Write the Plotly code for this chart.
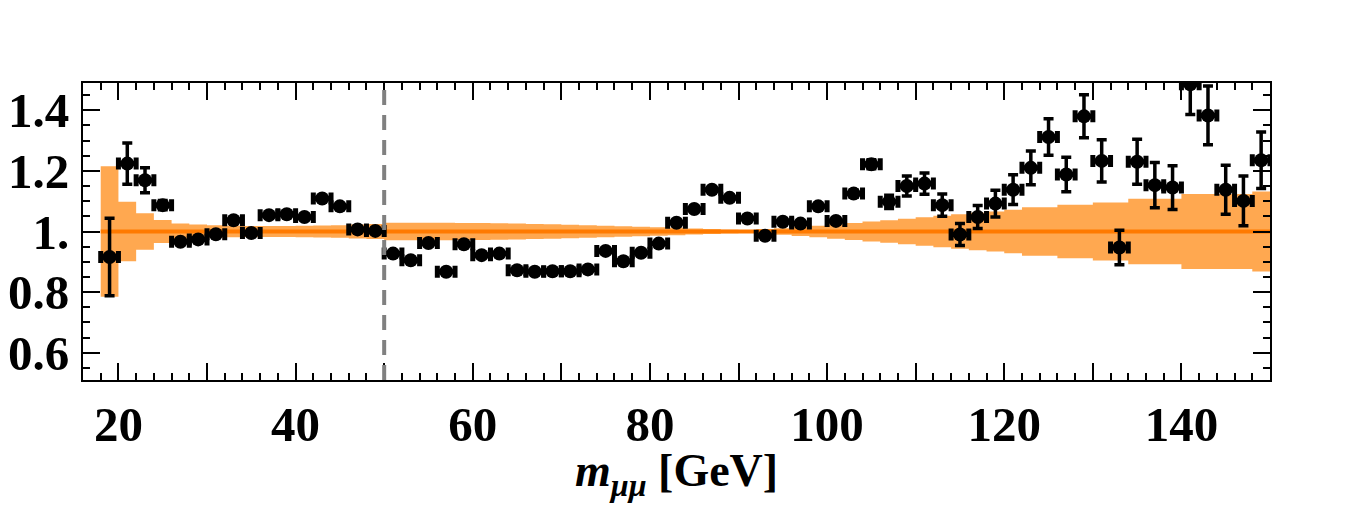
import plotly.graph_objects as go

# bin centres (GeV)
mass = [19, 21, 23, 25, 27, 29, 31, 33, 35, 37, 39, 41, 43, 45, 47, 49,
        51, 53, 55, 57, 59, 61, 63, 65, 67, 69, 71, 73, 75, 77, 79, 81,
        83, 85, 87, 89, 91, 93, 95, 97, 99, 101, 103, 105, 107, 109, 111, 113,
        115, 117, 119, 121, 123, 125, 127, 129, 131, 133, 135, 137, 139, 141, 143, 145,
        147, 149]
bin_half = [1.0] * len(mass)

ratio = [0.916, 1.224, 1.169, 1.087, 0.966, 0.974, 0.991, 1.037, 0.995, 1.054, 1.057, 1.048, 1.109, 1.083, 1.007, 1.002,
         0.927, 0.905, 0.962, 0.867, 0.958, 0.922, 0.927, 0.872, 0.867, 0.869, 0.869, 0.875, 0.936, 0.902, 0.930, 0.960,
         1.029, 1.074, 1.138, 1.111, 1.043, 0.986, 1.032, 1.026, 1.083, 1.035, 1.125, 1.222, 1.098, 1.150, 1.158, 1.087,
         0.990, 1.048, 1.092, 1.138, 1.210, 1.312, 1.188, 1.380, 1.233, 0.947, 1.230, 1.153, 1.145, 1.486, 1.383, 1.138,
         1.101, 1.235]
ratio_err = [0.128, 0.068, 0.041, 0.015, 0.008, 0.008, 0.008, 0.008, 0.008, 0.008, 0.008, 0.008, 0.008, 0.008, 0.008, 0.008,
             0.008, 0.008, 0.008, 0.008, 0.008, 0.008, 0.008, 0.008, 0.008, 0.008, 0.008, 0.008, 0.008, 0.008, 0.008, 0.008,
             0.008, 0.008, 0.008, 0.008, 0.008, 0.008, 0.008, 0.008, 0.009, 0.010, 0.012, 0.015, 0.022, 0.033, 0.035, 0.037,
             0.036, 0.038, 0.044, 0.049, 0.056, 0.060, 0.057, 0.071, 0.070, 0.057, 0.074, 0.075, 0.072, 0.100, 0.097, 0.081,
             0.082, 0.093]

# theory uncertainty band (half-width per bin) around 1
band_half = [0.215, 0.098, 0.060, 0.038, 0.026, 0.023, 0.021, 0.019, 0.018, 0.018, 0.018, 0.019, 0.020, 0.021, 0.023, 0.025,
             0.029, 0.029, 0.029, 0.029, 0.028, 0.028, 0.027, 0.026, 0.025, 0.024, 0.022, 0.021, 0.019, 0.017, 0.016, 0.014,
             0.012, 0.010, 0.008, 0.006, 0.005, 0.008, 0.011, 0.015, 0.019, 0.024, 0.028, 0.033, 0.037, 0.042, 0.047, 0.052,
             0.057, 0.062, 0.066, 0.072, 0.080, 0.080, 0.088, 0.088, 0.096, 0.096, 0.108, 0.108, 0.108, 0.124, 0.124, 0.124,
             0.124, 0.132]
central = 1.0

x_tick_vals = [20, 30, 40, 50, 60, 70, 80, 90, 100, 110, 120, 130, 140, 150]
x_tick_text = ["20", "", "40", "", "60", "", "80", "", "100", "", "120", "", "140", ""]
y_tick_vals = [0.6, 0.8, 1.0, 1.2, 1.4]
y_tick_text = ["0.6", "0.8", "1.", "1.2", "1.4"]
x_title = "<i>m</i><sub><i>μμ</i></sub> [GeV]"

# step edges for band
edges = [m - h for m, h in zip(mass, bin_half)] + [mass[-1] + bin_half[-1]]
upper = [central + b for b in band_half] + [central + band_half[-1]]
lower = [central - b for b in band_half] + [central - band_half[-1]]

BAND = "rgb(255,168,80)"
LINE = "rgb(255,122,0)"
FONT = "Liberation Serif"

fig = go.Figure()
fig.add_trace(go.Scatter(x=edges, y=lower, mode="lines", line=dict(width=0, shape="hv"),
                         hoverinfo="skip", showlegend=False))
fig.add_trace(go.Scatter(x=edges, y=upper, mode="lines", line=dict(width=0, shape="hv"),
                         fill="tonexty", fillcolor=BAND, hoverinfo="skip", showlegend=False))
fig.add_trace(go.Scatter(x=[edges[0], edges[-1]], y=[central, central], mode="lines",
                         line=dict(color=LINE, width=4), showlegend=False))

fig.add_trace(go.Scatter(
    x=mass, y=ratio, mode="markers",
    marker=dict(color="black", size=14, symbol="circle"),
    error_x=dict(type="data", array=bin_half, color="black", thickness=5, width=6),
    error_y=dict(type="data", array=ratio_err, color="black", thickness=3.5, width=5),
    showlegend=False,
))

fig.add_shape(type="line", x0=50, x1=50, y0=0, y1=1, xref="x", yref="paper",
              line=dict(color="rgb(128,128,128)", width=4, dash="15px,10px"))

axis_common = dict(
    showline=True, linecolor="black", linewidth=2, mirror="allticks",
    ticks="inside", ticklen=17, tickwidth=2, tickcolor="black",
    showgrid=False, zeroline=False,
    tickfont=dict(family=FONT, size=49, color="black", weight="bold"),
)

fig.update_xaxes(
    range=[16, 150], tickmode="array", tickvals=x_tick_vals, ticktext=x_tick_text,
    ticklabelstandoff=0,
    minor=dict(ticks="inside", ticklen=7, tickwidth=1.5, dtick=2, tick0=0, tickcolor="black"),
    **axis_common,
)
fig.update_yaxes(
    range=[0.51, 1.49], tickmode="array", tickvals=y_tick_vals, ticktext=y_tick_text,
    ticklabelstandoff=2,
    minor=dict(ticks="inside", ticklen=7, tickwidth=1.5, dtick=0.05, tick0=0, tickcolor="black"),
    **axis_common,
)

fig.add_annotation(text=x_title, xref="paper", yref="paper", x=0.5, y=-0.421,
                   xanchor="center", yanchor="bottom", showarrow=False,
                   font=dict(family=FONT, size=46, color="black", weight="bold"))

fig.update_layout(
    width=1355, height=507,
    margin=dict(l=83, r=85, t=83, b=127, autoexpand=False),
    paper_bgcolor="white", plot_bgcolor="white",
)

fig.write_html("out.html")
